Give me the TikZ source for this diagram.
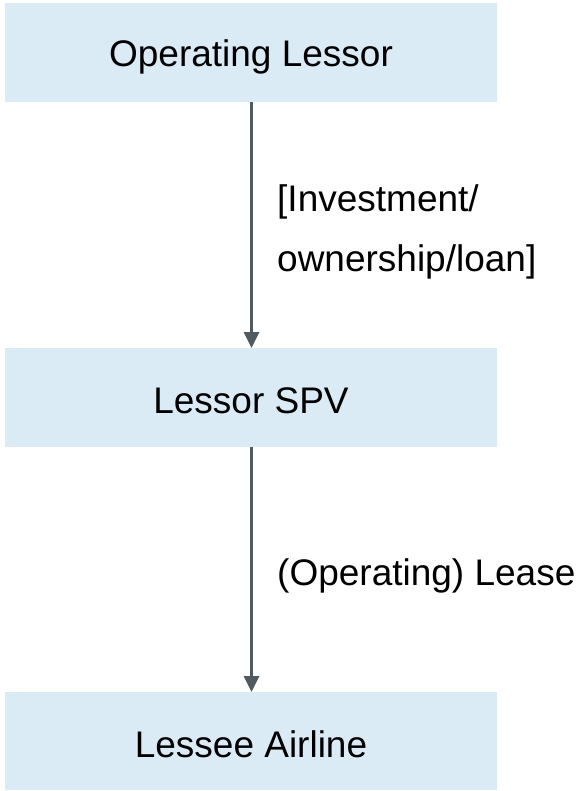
\documentclass[tikz,border=0pt]{standalone}
\usepackage{fontspec}
\setmainfont{Liberation Sans}
\usetikzlibrary{arrows.meta}
\definecolor{boxfill}{HTML}{DAEBF5}
\definecolor{flowline}{HTML}{505A63}
\tikzset{
  stagebox/.style={fill=boxfill, draw=none, inner sep=0pt},
  flowarrow/.style={draw=flowline, line width=3pt,
    -{Triangle[length=16pt, width=15pt]}, shorten >=0pt},
  boxtext/.style={anchor=base, inner sep=0pt, font=\fontsize{37}{44}\selectfont},
  flowlabel/.style={anchor=base west, inner sep=0pt, align=left,
    font=\fontsize{37}{60}\selectfont}
}
\begin{document}
\begin{tikzpicture}[x=1pt, y=-1pt]
  \useasboundingbox (0,0) rectangle (580,791);

  % the three stages
  \path[stagebox] (5,3) rectangle (497,102);
  \path[stagebox] (5,348) rectangle (497,447);
  \path[stagebox] (5,692) rectangle (497,790);

  \coordinate (lessorbot) at (251.5,102);
  \coordinate (spvtop) at (251.5,348);
  \coordinate (spvbot) at (251.5,447);
  \coordinate (airlinetop) at (251.5,692);

  \node[boxtext] (lessor) at (251,67) {Operating Lessor};
  \node[boxtext] (spv) at (251,413) {Lessor SPV};
  \node[boxtext] (airline) at (251,757) {Lessee Airline};

  % connectors between the stages
  \draw[flowarrow] (lessorbot) -- (spvtop);
  \draw[flowarrow] (spvbot) -- (airlinetop);

  % base anchor of a two-line node sits on its last line
  \node[flowlabel] (invest) at (277,272) {[Investment/\\ownership/loan]};
  \node[flowlabel] (lease) at (277,585) {(Operating) Lease};
\end{tikzpicture}
\end{document}
